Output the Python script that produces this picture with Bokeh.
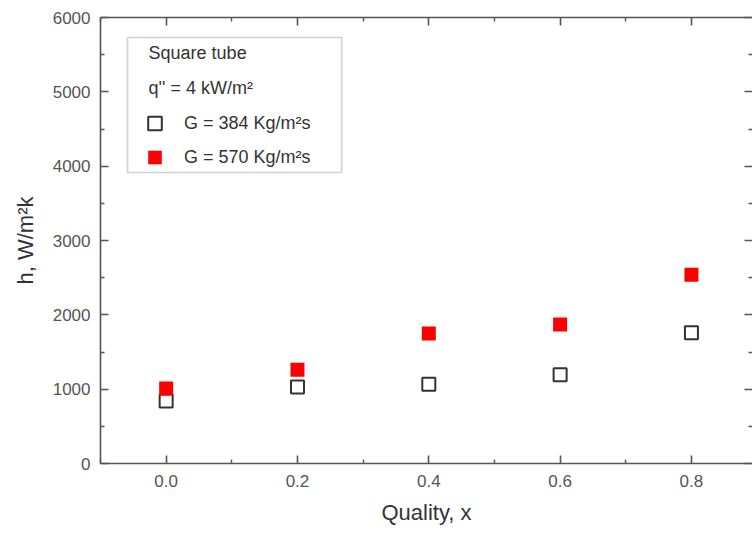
from bokeh.plotting import figure
from bokeh.models import (Range1d, FixedTicker, LinearAxis, Legend, LegendItem,
                          Label, BoxAnnotation, CustomJSTickFormatter)
from bokeh.embed import file_html
from bokeh.resources import INLINE

# ---- data ----
quality = [0.0, 0.2, 0.4, 0.6, 0.8]
h_g384 = [840, 1030, 1065, 1195, 1760]
h_g570 = [1010, 1260, 1750, 1870, 2540]

x_ticks = [0.0, 0.2, 0.4, 0.6, 0.8]
x_tick_labels = ["0.0", "0.2", "0.4", "0.6", "0.8"]
x_minor_ticks = [-0.1, 0.1, 0.3, 0.5, 0.7]
y_ticks = [0, 1000, 2000, 3000, 4000, 5000, 6000]
y_minor_ticks = [500, 1500, 2500, 3500, 4500, 5500]

x_title = "Quality, x"
y_title = "h, W/m\u00b2k"
legend_title = "Square tube"
legend_cond = "q'' = 4 kW/m\u00b2"
label_g384 = "G = 384 Kg/m\u00b2s"
label_g570 = "G = 570 Kg/m\u00b2s"

FONT = "Liberation Sans"
AX = "#555555"
TXT = "#333333"

p = figure(width=752, height=537, output_backend="svg", toolbar_location=None,
           x_range=Range1d(-0.1, 0.893), y_range=Range1d(0, 6000),
           x_axis_label=x_title, y_axis_label=y_title,
           min_border_left=100, min_border_right=0, min_border_top=17,
           min_border_bottom=74)
p.outline_line_color = None
p.xgrid.visible = False
p.ygrid.visible = False
p.background_fill_color = "white"
p.border_fill_color = "white"

xt = FixedTicker(ticks=x_ticks, minor_ticks=x_minor_ticks)
yt = FixedTicker(ticks=y_ticks, minor_ticks=y_minor_ticks)

def style(ax):
    ax.axis_line_color = AX
    ax.axis_line_width = 1.6
    ax.major_tick_line_color = AX
    ax.minor_tick_line_color = AX
    ax.major_tick_line_width = 1.6
    ax.minor_tick_line_width = 1.4
    ax.major_tick_in = 8
    ax.major_tick_out = 0
    ax.minor_tick_in = 4
    ax.minor_tick_out = 0
    ax.major_label_text_font = FONT
    ax.major_label_text_font_size = "17px"
    ax.major_label_text_color = "#555555"
    ax.axis_label_text_font = FONT
    ax.axis_label_text_font_size = "22px"
    ax.axis_label_text_font_style = "normal"
    ax.axis_label_text_color = TXT

xa = p.xaxis[0]
xa.ticker = xt
xa.major_label_overrides = {t: l for t, l in zip(x_ticks, x_tick_labels)}
style(xa)
xa.major_label_standoff = 11
xa.axis_label_standoff = 10

ya = p.yaxis[0]
ya.ticker = yt
style(ya)
ya.major_label_standoff = 10
ya.axis_label_standoff = 12

empty = CustomJSTickFormatter(code="return ''")
top = LinearAxis(ticker=xt, formatter=empty, major_label_standoff=0)
style(top)
p.add_layout(top, "above")
right = LinearAxis(ticker=yt, formatter=empty, major_label_standoff=0)
style(right)
right.axis_line_color = None
p.add_layout(right, "right")

r384 = p.scatter(quality, h_g384, marker="square", size=13, fill_color="white",
                 line_color="#333333", line_width=2)
r570 = p.scatter(quality, h_g570, marker="square", size=14, fill_color="#ff0000",
                 line_color=None)

# legend frame
box = BoxAnnotation(left=-0.0588, right=0.2674, top=5731, bottom=3915,
                    fill_color="white", fill_alpha=1.0, line_color="#666666",
                    line_width=1.6, level="annotation")
p.add_layout(box)

for txt, yv in [(legend_title, 5529), (legend_cond, 5045)]:
    p.add_layout(Label(x=-0.0268, y=yv, text=txt, text_baseline="middle",
                       text_font=FONT, text_font_size="18px", text_color=TXT))

legend = Legend(items=[LegendItem(label=label_g384, renderers=[r384]),
                       LegendItem(label=label_g570, renderers=[r570])],
                location=(37, 289), orientation="vertical",
                glyph_width=35, glyph_height=34, label_height=34, spacing=0,
                padding=0, margin=0, label_standoff=12,
                label_text_font=FONT, label_text_font_size="18px",
                label_text_color=TXT, border_line_color=None,
                background_fill_alpha=0.0)
p.add_layout(legend)

open("out.html", "w").write(file_html(p, INLINE))
